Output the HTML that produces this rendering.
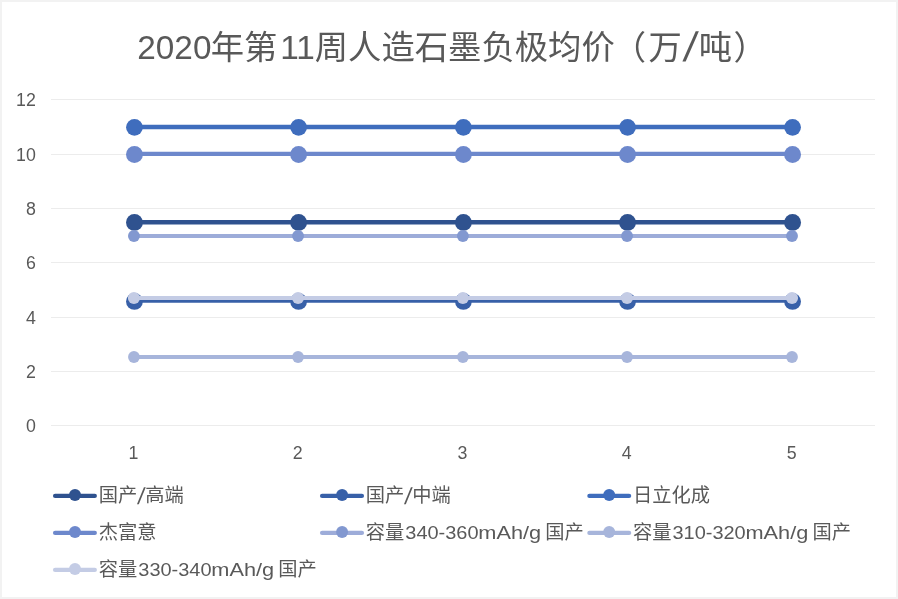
<!DOCTYPE html>
<html lang="zh-CN"><head><meta charset="utf-8"><title>2020年第11周人造石墨负极均价（万/吨）</title>
<style>
html,body{margin:0;padding:0;background:#fff;}
body{width:898px;height:599px;overflow:hidden;}
svg{display:block;}
text{font-family:"Liberation Sans","Noto Sans CJK SC",sans-serif;fill:#595959;}
.t{font-size:33.33px;}
.a{font-size:19.25px;}
</style></head><body>
<svg width="898" height="599" viewBox="0 0 898 599">
<rect x="0" y="0" width="898" height="599" fill="#F2F2F2"/>
<rect x="2" y="2" width="894" height="595" fill="#FFFFFF"/>
<line x1="51.0" x2="875.0" y1="425.5" y2="425.5" stroke="#ECECEC" stroke-width="1"/>
<line x1="51.0" x2="875.0" y1="371.5" y2="371.5" stroke="#ECECEC" stroke-width="1"/>
<line x1="51.0" x2="875.0" y1="317.5" y2="317.5" stroke="#ECECEC" stroke-width="1"/>
<line x1="51.0" x2="875.0" y1="262.5" y2="262.5" stroke="#ECECEC" stroke-width="1"/>
<line x1="51.0" x2="875.0" y1="208.5" y2="208.5" stroke="#ECECEC" stroke-width="1"/>
<line x1="51.0" x2="875.0" y1="154.5" y2="154.5" stroke="#ECECEC" stroke-width="1"/>
<line x1="51.0" x2="875.0" y1="99.5" y2="99.5" stroke="#ECECEC" stroke-width="1"/>
<text class="t" y="58.8"><tspan x="137.3">2020</tspan><tspan x="210.7">年第</tspan><tspan x="280.2">11</tspan><tspan x="314.8">周人造石墨负极均价</tspan><tspan x="612.7">（</tspan><tspan x="648.6">万</tspan><tspan x="698.7">吨</tspan><tspan x="733.4">）</tspan></text>
<text transform="translate(682.6,61.2) skewX(-9.5)" style="font-size:41px">/</text>
<text class="a" x="26.00" y="431.60" textLength="9.9" lengthAdjust="spacingAndGlyphs">0</text>
<text class="a" x="26.00" y="377.60" textLength="9.9" lengthAdjust="spacingAndGlyphs">2</text>
<text class="a" x="26.00" y="323.60" textLength="9.9" lengthAdjust="spacingAndGlyphs">4</text>
<text class="a" x="26.00" y="268.60" textLength="9.9" lengthAdjust="spacingAndGlyphs">6</text>
<text class="a" x="26.00" y="214.60" textLength="9.9" lengthAdjust="spacingAndGlyphs">8</text>
<text class="a" x="16.10" y="160.60" textLength="19.8" lengthAdjust="spacingAndGlyphs">10</text>
<text class="a" x="16.10" y="105.60" textLength="19.8" lengthAdjust="spacingAndGlyphs">12</text>
<text class="a" x="128.60" y="458.9" textLength="9.9" lengthAdjust="spacingAndGlyphs">1</text>
<text class="a" x="292.75" y="458.9" textLength="9.9" lengthAdjust="spacingAndGlyphs">2</text>
<text class="a" x="457.55" y="458.9" textLength="9.9" lengthAdjust="spacingAndGlyphs">3</text>
<text class="a" x="621.70" y="458.9" textLength="9.9" lengthAdjust="spacingAndGlyphs">4</text>
<text class="a" x="786.72" y="458.9" textLength="9.9" lengthAdjust="spacingAndGlyphs">5</text>
<g>
<line x1="134.45" x2="792.57" y1="222.20" y2="222.20" stroke="#2F528F" stroke-width="4.4" stroke-linecap="round"/>
<circle cx="134.45" cy="222.40" r="8.45" fill="#2F528F"/>
<circle cx="298.60" cy="222.40" r="8.45" fill="#2F528F"/>
<circle cx="463.40" cy="222.40" r="8.45" fill="#2F528F"/>
<circle cx="627.55" cy="222.40" r="8.45" fill="#2F528F"/>
<circle cx="792.57" cy="222.40" r="8.45" fill="#2F528F"/>
</g>
<g>
<line x1="134.45" x2="792.57" y1="300.65" y2="300.65" stroke="#3860A8" stroke-width="4.4" stroke-linecap="round"/>
<circle cx="134.45" cy="301.45" r="8.4" fill="#3860A8"/>
<circle cx="298.60" cy="301.45" r="8.4" fill="#3860A8"/>
<circle cx="463.40" cy="301.45" r="8.4" fill="#3860A8"/>
<circle cx="627.55" cy="301.45" r="8.4" fill="#3860A8"/>
<circle cx="792.57" cy="301.45" r="8.4" fill="#3860A8"/>
</g>
<g>
<line x1="134.45" x2="792.57" y1="127.00" y2="127.00" stroke="#3F6DBD" stroke-width="4.3" stroke-linecap="round"/>
<circle cx="134.45" cy="127.35" r="8.4" fill="#3F6DBD"/>
<circle cx="298.60" cy="127.35" r="8.4" fill="#3F6DBD"/>
<circle cx="463.40" cy="127.35" r="8.4" fill="#3F6DBD"/>
<circle cx="627.55" cy="127.35" r="8.4" fill="#3F6DBD"/>
<circle cx="792.57" cy="127.35" r="8.4" fill="#3F6DBD"/>
</g>
<g>
<line x1="134.45" x2="792.57" y1="153.90" y2="153.90" stroke="#6D88CC" stroke-width="4.3" stroke-linecap="round"/>
<circle cx="134.45" cy="154.50" r="8.45" fill="#6D88CC"/>
<circle cx="298.60" cy="154.50" r="8.45" fill="#6D88CC"/>
<circle cx="463.40" cy="154.50" r="8.45" fill="#6D88CC"/>
<circle cx="627.55" cy="154.50" r="8.45" fill="#6D88CC"/>
<circle cx="792.57" cy="154.50" r="8.45" fill="#6D88CC"/>
</g>
<g>
<line x1="133.95" x2="792.00" y1="236.00" y2="236.00" stroke="#9DACD9" stroke-width="4.0" stroke-linecap="round"/>
<circle cx="133.95" cy="236.05" r="5.95" fill="#8298D0"/>
<circle cx="298.05" cy="236.05" r="5.95" fill="#8298D0"/>
<circle cx="462.90" cy="236.05" r="5.95" fill="#8298D0"/>
<circle cx="627.05" cy="236.05" r="5.95" fill="#8298D0"/>
<circle cx="792.00" cy="236.05" r="5.95" fill="#8298D0"/>
</g>
<g>
<line x1="133.95" x2="792.00" y1="357.00" y2="357.00" stroke="#A7B5DB" stroke-width="3.95" stroke-linecap="round"/>
<circle cx="133.95" cy="357.00" r="5.9" fill="#A7B5DB"/>
<circle cx="298.05" cy="357.00" r="5.9" fill="#A7B5DB"/>
<circle cx="462.90" cy="357.00" r="5.9" fill="#A7B5DB"/>
<circle cx="627.05" cy="357.00" r="5.9" fill="#A7B5DB"/>
<circle cx="792.00" cy="357.00" r="5.9" fill="#A7B5DB"/>
</g>
<g>
<line x1="133.95" x2="792.00" y1="298.05" y2="298.05" stroke="#C4CCE5" stroke-width="3.95" stroke-linecap="round"/>
<circle cx="133.95" cy="298.00" r="6.05" fill="#C4CCE5"/>
<circle cx="298.05" cy="298.00" r="6.05" fill="#C4CCE5"/>
<circle cx="462.90" cy="298.00" r="6.05" fill="#C4CCE5"/>
<circle cx="627.05" cy="298.00" r="6.05" fill="#C4CCE5"/>
<circle cx="792.00" cy="298.00" r="6.05" fill="#C4CCE5"/>
</g>
<line x1="55.1" x2="94.8" y1="495.95" y2="495.95" stroke="#2F528F" stroke-width="4.3" stroke-linecap="round"/>
<circle cx="75.0" cy="495.05" r="6" fill="#2F528F"/>
<text class="a" y="502.35"><tspan x="98.8">国产</tspan><tspan x="145.2">高端</tspan></text><text transform="translate(137.0,503.95) skewX(-8)" style="font-size:23px">/</text>
<line x1="322.1" x2="361.9" y1="495.95" y2="495.95" stroke="#3860A8" stroke-width="4.3" stroke-linecap="round"/>
<circle cx="342.1" cy="495.05" r="6" fill="#3860A8"/>
<text class="a" y="502.35"><tspan x="365.8">国产</tspan><tspan x="412.2">中端</tspan></text><text transform="translate(404.0,503.95) skewX(-8)" style="font-size:23px">/</text>
<line x1="589.4" x2="629.1" y1="495.95" y2="495.95" stroke="#3F6DBD" stroke-width="4.3" stroke-linecap="round"/>
<circle cx="609.2" cy="495.05" r="6" fill="#3F6DBD"/>
<text class="a" x="633.0" y="502.35">日立化成</text>
<line x1="55.1" x2="94.8" y1="532.95" y2="532.95" stroke="#6D88CC" stroke-width="4.3" stroke-linecap="round"/>
<circle cx="75.0" cy="532.05" r="6" fill="#6D88CC"/>
<text class="a" x="98.8" y="539.35">杰富意</text>
<line x1="322.1" x2="361.9" y1="532.95" y2="532.95" stroke="#9DACD9" stroke-width="4.3" stroke-linecap="round"/>
<circle cx="342.1" cy="532.05" r="6" fill="#8298D0"/>
<text class="a" y="539.35"><tspan x="365.8">容量</tspan><tspan x="405.3" textLength="73.2" lengthAdjust="spacingAndGlyphs">340-360</tspan><tspan x="478.3" textLength="62.8" lengthAdjust="spacingAndGlyphs">mAh/g</tspan><tspan x="539.95"> 国产</tspan></text>
<line x1="589.4" x2="629.1" y1="532.95" y2="532.95" stroke="#A7B5DB" stroke-width="4.3" stroke-linecap="round"/>
<circle cx="609.2" cy="532.05" r="6" fill="#A7B5DB"/>
<text class="a" y="539.35"><tspan x="633.0">容量</tspan><tspan x="672.5" textLength="73.2" lengthAdjust="spacingAndGlyphs">310-320</tspan><tspan x="745.5" textLength="62.8" lengthAdjust="spacingAndGlyphs">mAh/g</tspan><tspan x="807.15"> 国产</tspan></text>
<line x1="55.1" x2="94.8" y1="569.95" y2="569.95" stroke="#C4CCE5" stroke-width="4.3" stroke-linecap="round"/>
<circle cx="75.0" cy="569.05" r="6" fill="#C4CCE5"/>
<text class="a" y="576.35"><tspan x="98.8">容量</tspan><tspan x="138.3" textLength="73.2" lengthAdjust="spacingAndGlyphs">330-340</tspan><tspan x="211.3" textLength="62.8" lengthAdjust="spacingAndGlyphs">mAh/g</tspan><tspan x="272.95"> 国产</tspan></text>
</svg></body></html>
